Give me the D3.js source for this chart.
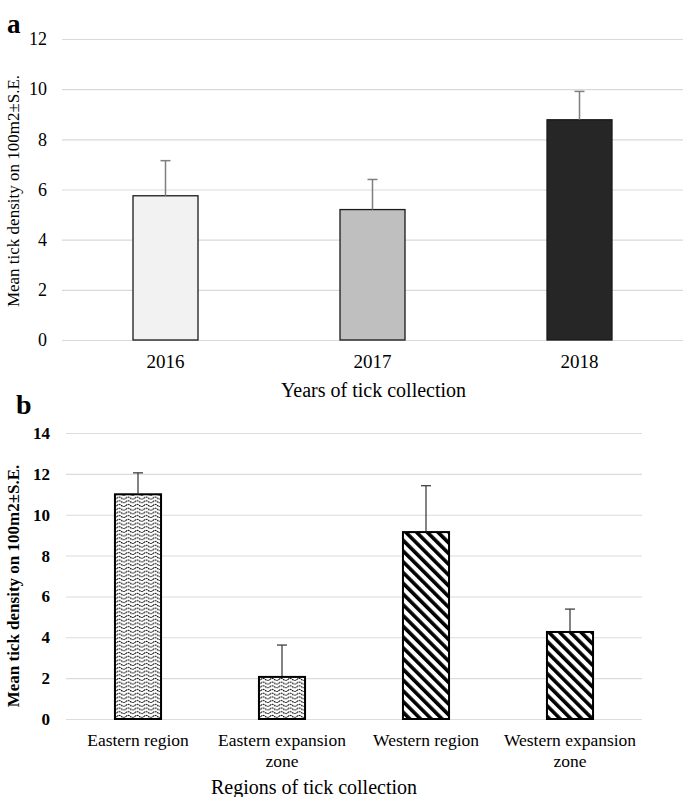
<!DOCTYPE html>
<html>
<head>
<meta charset="utf-8">
<script src="https://cdn.jsdelivr.net/npm/d3@7/dist/d3.min.js"></script>
<style>
  html, body { margin: 0; padding: 0; background: #fff; }
  svg { display: block; }
  text { font-family: "Liberation Serif", "Times New Roman", serif; fill: #000; }
</style>
</head>
<body>
<svg id="chart" width="685" height="797"></svg>
<script>
// ---- Data ----
const yearsA = ["2016", "2017", "2018"];
const meanA = [5.75, 5.2, 8.78];
const seA = [1.4, 1.2, 1.13];
const fillsA = ["#f2f2f2", "#bfbfbf", "#262626"];
const ticksA = [0, 2, 4, 6, 8, 10, 12];

const regionsB = ["Eastern region", "Eastern expansion zone", "Western region", "Western expansion zone"];
const meanB = [11.0, 2.06, 9.15, 4.26];
const seB = [1.05, 1.56, 2.27, 1.12];
const patternsB = ["wave", "wave", "stripe", "stripe"];
const ticksB = [0, 2, 4, 6, 8, 10, 12, 14];

const yTitle = "Mean tick density on 100m2±S.E.";

const svg = d3.select("#chart");
const defs = svg.append("defs");

// wave pattern
const wave = defs.append("pattern").attr("id", "wave")
  .attr("patternUnits", "userSpaceOnUse").attr("width", 9).attr("height", 3.7);
wave.append("rect").attr("width", 9).attr("height", 3.7).attr("fill", "#fff");
wave.append("path").attr("d", "M0,2.3 Q2.25,0.2 4.5,2.3 T9,2.3")
  .attr("fill", "none").attr("stroke", "#000").attr("stroke-width", 1.1)
  .attr("stroke-dasharray", "1.6,0.7");

// stripe pattern (down-right diagonal)
const stripe = defs.append("pattern").attr("id", "stripe")
  .attr("patternUnits", "userSpaceOnUse").attr("width", 7.6).attr("height", 7.6)
  .attr("patternTransform", "rotate(-45)");
stripe.append("rect").attr("width", 7.6).attr("height", 7.6).attr("fill", "#fff");
stripe.append("rect").attr("width", 3.6).attr("height", 7.6).attr("fill", "#000");

// ---------------- Panel a ----------------
{
  const left = 62, right = 683, top = 39, bottom = 340;
  const x = d3.scaleBand().domain(yearsA).range([left, right]).paddingInner(0.686).paddingOuter(0.343);
  const y = d3.scaleLinear().domain([0, 12]).range([bottom, top]);
  const g = svg.append("g");

  g.append("g").selectAll("line").data(ticksA).join("line")
    .attr("x1", left).attr("x2", right)
    .attr("y1", d => y(d) + 0.5).attr("y2", d => y(d) + 0.5)
    .attr("stroke", "#d9d9d9").attr("stroke-width", 1.2);

  const yAxis = d3.axisLeft(y).tickValues(ticksA).tickSize(0).tickPadding(0);
  const ya = g.append("g").attr("transform", `translate(47,0)`).call(yAxis);
  ya.select(".domain").remove();
  ya.selectAll("text").style("font-size", "18px").style("font-family", "Liberation Serif").attr("fill", "#000");

  const data = yearsA.map((k, i) => ({ k, v: meanA[i], e: seA[i], f: fillsA[i] }));
  g.selectAll("rect.bar").data(data).join("rect").attr("class", "bar")
    .attr("x", d => x(d.k)).attr("width", x.bandwidth())
    .attr("y", d => y(d.v)).attr("height", d => y(0) - y(d.v))
    .attr("fill", d => d.f).attr("stroke", "#1a1a1a").attr("stroke-width", 1.3);

  const eb = g.selectAll("g.err").data(data).join("g").attr("class", "err");
  eb.append("line").attr("x1", d => x(d.k) + x.bandwidth() / 2).attr("x2", d => x(d.k) + x.bandwidth() / 2)
    .attr("y1", d => y(d.v)).attr("y2", d => y(d.v + d.e)).attr("stroke", "#7f7f7f").attr("stroke-width", 1.5);
  eb.append("line").attr("x1", d => x(d.k) + x.bandwidth() / 2 - 5).attr("x2", d => x(d.k) + x.bandwidth() / 2 + 5)
    .attr("y1", d => y(d.v + d.e)).attr("y2", d => y(d.v + d.e)).attr("stroke", "#7f7f7f").attr("stroke-width", 1.5);

  const xAxis = d3.axisBottom(x).tickSize(0).tickPadding(0);
  const xa = g.append("g").attr("transform", `translate(0,354)`).call(xAxis);
  xa.select(".domain").remove();
  xa.selectAll("text").style("font-size", "19px").style("font-family", "Liberation Serif").attr("fill", "#000");

  g.append("text").attr("x", (left + right) / 2 + 1).attr("y", 397).attr("text-anchor", "middle")
    .style("font-size", "20px").text("Years of tick collection");
  g.append("text").attr("transform", `translate(19,191) rotate(-90)`)
    .attr("text-anchor", "middle").style("font-size", "17px").text(yTitle);
  g.append("text").attr("x", 7).attr("y", 33).style("font-size", "27px").style("font-weight", "bold").text("a");
}

// ---------------- Panel b ----------------
{
  const left = 66, right = 642, top = 433, bottom = 719;
  const x = d3.scaleBand().domain(regionsB).range([left, right]).paddingInner(0.68).paddingOuter(0.34);
  const y = d3.scaleLinear().domain([0, 14]).range([bottom, top]);
  const g = svg.append("g");

  g.append("g").selectAll("line").data(ticksB).join("line")
    .attr("x1", left).attr("x2", right)
    .attr("y1", d => y(d) + 0.5).attr("y2", d => y(d) + 0.5)
    .attr("stroke", "#dcdcdc").attr("stroke-width", 1.1);

  const yAxis = d3.axisLeft(y).tickValues(ticksB).tickSize(0).tickPadding(0);
  const ya = g.append("g").attr("transform", `translate(50,0)`).call(yAxis);
  ya.select(".domain").remove();
  ya.selectAll("text").style("font-size", "17px").style("font-weight", "bold")
    .style("font-family", "Liberation Serif").attr("fill", "#000");

  const data = regionsB.map((k, i) => ({ k, v: meanB[i], e: seB[i], p: patternsB[i] }));
  g.selectAll("rect.bar").data(data).join("rect").attr("class", "bar")
    .attr("x", d => x(d.k)).attr("width", x.bandwidth())
    .attr("y", d => y(d.v)).attr("height", d => y(0) - y(d.v))
    .attr("fill", d => `url(#${d.p})`).attr("stroke", "#000").attr("stroke-width", 2);

  const eb = g.selectAll("g.err").data(data).join("g").attr("class", "err");
  eb.append("line").attr("x1", d => x(d.k) + x.bandwidth() / 2).attr("x2", d => x(d.k) + x.bandwidth() / 2)
    .attr("y1", d => y(d.v) - 1).attr("y2", d => y(d.v + d.e)).attr("stroke", "#404040").attr("stroke-width", 1.3);
  eb.append("line").attr("x1", d => x(d.k) + x.bandwidth() / 2 - 5).attr("x2", d => x(d.k) + x.bandwidth() / 2 + 5)
    .attr("y1", d => y(d.v + d.e)).attr("y2", d => y(d.v + d.e)).attr("stroke", "#404040").attr("stroke-width", 1.3);

  const xAxis = d3.axisBottom(x).tickSize(0).tickPadding(0);
  const xa = g.append("g").attr("transform", `translate(0,734)`).call(xAxis);
  xa.select(".domain").remove();
  xa.selectAll("text").style("font-size", "17.5px").style("font-family", "Liberation Serif").attr("fill", "#000")
    .each(function (d) {
      const t = d3.select(this);
      const words = d.split(" ");
      t.text(null);
      const maxW = x.step() - 1;
      let line = [];
      let tspan = t.append("tspan").attr("x", 0).attr("dy", "0.71em");
      for (const w of words) {
        line.push(w);
        tspan.text(line.join(" "));
        if (tspan.node().getComputedTextLength() > maxW && line.length > 1) {
          line.pop();
          tspan.text(line.join(" "));
          line = [w];
          tspan = t.append("tspan").attr("x", 0).attr("dy", "1.2em").text(w);
        }
      }
    });

  g.append("text").attr("x", 314).attr("y", 794).attr("text-anchor", "middle")
    .style("font-size", "20px").text("Regions of tick collection");
  g.append("text").attr("transform", `translate(19,${(top + bottom) / 2 + 10}) rotate(-90)`)
    .attr("text-anchor", "middle").style("font-size", "17px").style("font-weight", "bold").text(yTitle);
  g.append("text").attr("x", 16).attr("y", 414).style("font-size", "28px").style("font-weight", "bold").text("b");
}
</script>
</body>
</html>
